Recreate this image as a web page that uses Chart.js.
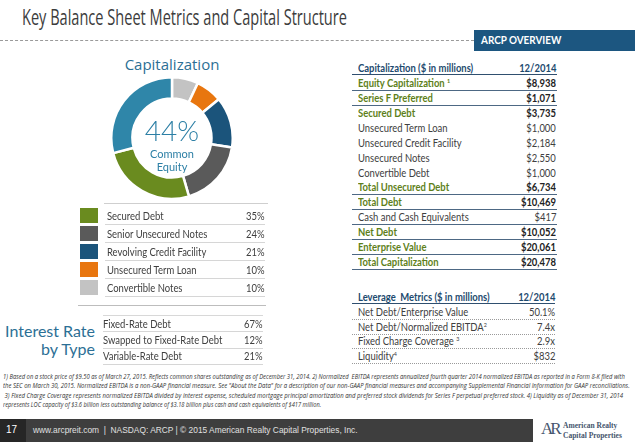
<!DOCTYPE html>
<html>
<head>
<meta charset="utf-8">
<script src="https://cdn.jsdelivr.net/npm/chart.js@4.4.1/dist/chart.umd.min.js"></script>
<style>
  html, body { margin: 0; padding: 0; background: #fff; }
  #slide { position: relative; width: 635px; height: 442px; overflow: hidden; background: #fff;
           font-family: Lato, "Open Sans", sans-serif; color: #404040; }
  .abs { position: absolute; white-space: nowrap; }
  .c { display: inline-block; transform: scaleX(.9); transform-origin: left center; }
  .cr { display: inline-block; transform: scaleX(.9); transform-origin: right center; }
  .row { position: absolute; display: flex; justify-content: space-between; align-items: center; }
  .blue { color: #2c6f95; }
  .navy { color: #1d4a6e; font-weight: bold; }
  .grn { color: #5e7f1a; font-weight: bold; }
  .dark { color: #222; font-weight: bold; }
  sup { font-size: 6px; vertical-align: 4px; }
</style>
</head>
<body>
<div id="slide">
  <div class="abs" id="title" style="left:22px; top:1px; font-size:22px; font-family:'Open Sans'; font-weight:400; color:#3c3c3c;">Key Balance Sheet Metrics and Capital Structure</div>
  <div class="abs" style="left:0; top:40px; width:474px; border-top:1px dashed #9a9a9a;"></div>
  <div class="abs" style="left:474px; top:30px; width:161px; height:21px; background:#1c5680;"></div>
  <div class="abs" style="left:481px; top:33px; font-size:11px; font-weight:bold; color:#fff;"><span class="c">ARCP OVERVIEW</span></div>

  <div class="abs blue" style="left:112px; width:120px; top:54px; font-size:15px; text-align:center; font-family:'Open Sans';">Capitalization</div>
  <canvas id="donut" width="124" height="124" style="position:absolute; left:110px; top:76px;"></canvas>
  <div class="abs" style="left:132px; width:80px; top:112.5px; text-align:center; color:#2c7fa5; font-size:11px; line-height:13px;"><span style="display:block; font-size:28px; line-height:34px; font-weight:300;">44%</span>Common<br>Equity</div>

  <div class="abs" style="left:104px; top:203px; width:164px; border-top:1px solid #cfcfcf;"></div>
  <div id="legend"></div>

  <div class="abs" style="left:78px; top:305px; width:188px; border-top:1.5px solid #bdbdbd;"></div>
  <div class="abs" style="left:103px; top:315px; width:160px; border-top:1px solid #d8d8d8;"></div>
  <div class="abs blue" style="left:0; width:95px; top:322px; font-size:16px; line-height:18px; text-align:right;">Interest Rate<br>by Type</div>
  <div id="rates"></div>

  <div id="capTable"></div>
  <div id="levTable"></div>

  <div id="notes"></div>

  <div class="abs" style="left:0; top:419px; width:533px; height:23px; background:#3e3e3e;"></div>
  <div class="abs" style="left:0; top:419px; width:26px; height:23px; background:#262626;"></div>
  <div class="abs" style="left:6px; top:424px; font-size:10px; color:#fff; font-family:'Liberation Sans';">17</div>
  <div class="abs" style="left:33px; top:425px; font-size:8.4px; color:#e0e0e0; font-family:'Liberation Sans';">www.arcpreit.com &nbsp;| &nbsp;NASDAQ: ARCP | © 2015 American Realty Capital Properties, Inc.</div>
  <div class="abs" style="left:541px; top:419px; font-size:17px; font-family:'Liberation Serif'; color:#46566e; letter-spacing:-3px;">AR</div>
  <div class="abs" style="left:563px; top:421px; font-size:7.5px; line-height:10px; font-family:'Liberation Serif'; font-weight:bold; color:#46566e;">American Realty<br>Capital Properties</div>
</div>

<script>
// donut slices, clockwise from 12 o'clock
const donutLabels = ['Convertible Notes', 'Unsecured Term Loan', 'Revolving Credit Facility', 'Senior Unsecured Notes', 'Secured Debt', 'Common Equity'];
const donutValues = [7, 7, 13.5, 18, 25.5, 29];
const donutColors = ['#c3c3c3', '#e8760f', '#1b547b', '#5a5a5a', '#6a8b1f', '#2f86a9'];

// debt legend
const debtTypes = ['Secured Debt', 'Senior Unsecured Notes', 'Revolving Credit Facility', 'Unsecured Term Loan', 'Convertible Notes'];
const debtShares = ['35%', '24%', '21%', '10%', '10%'];
const debtColors = ['#6a8b1f', '#5a5a5a', '#1b547b', '#e8760f', '#c3c3c3'];

// interest rate by type
const rateTypes = ['Fixed-Rate Debt', 'Swapped to Fixed-Rate Debt', 'Variable-Rate Debt'];
const rateShares = ['67%', '12%', '21%'];

// capitalization table
const capHeader = ['Capitalization ($ in millions)', '12/2014'];
const capLabels = ['Equity Capitalization <sup>1</sup>', 'Series F Preferred', 'Secured Debt', 'Unsecured Term Loan',
  'Unsecured Credit Facility', 'Unsecured Notes', 'Convertible Debt', 'Total Unsecured Debt', 'Total Debt',
  'Cash and Cash Equivalents', 'Net Debt', 'Enterprise Value', 'Total Capitalization'];
const capValues = ['$8,938', '$1,071', '$3,735', '$1,000', '$2,184', '$2,550', '$1,000', '$6,734', '$10,469',
  '$417', '$10,052', '$20,061', '$20,478'];
const capBold = [0, 1, 2, 7, 8, 10, 11, 12];
const capRuled = [0, 1, 7, 8, 9, 10, 11, 12];

// leverage table
const levHeader = ['Leverage&nbsp; Metrics ($ in millions)', '12/2014'];
const levLabels = ['Net Debt/Enterprise Value', 'Net Debt/Normalized EBITDA<sup>2</sup>', 'Fixed Charge Coverage <sup>3</sup>', 'Liquidity<sup>4</sup>'];
const levValues = ['50.1%', '7.4x', '2.9x', '$832'];

const footnotes = [
  '1) Based on a stock price of $9.50 as of March 27, 2015. Reflects common shares outstanding as of December 31, 2014. 2) Normalized&nbsp; EBITDA represents annualized fourth quarter 2014 normalized EBITDA as reported in a Form 8-K filed with',
  'the SEC on March 30, 2015. Normalized EBITDA is a non-GAAP financial measure. See "About the Data" for a description of our non-GAAP financial measures and accompanying Supplemental Financial Information for GAAP reconciliations.',
  '&nbsp;3) Fixed Charge Coverage represents normalized EBITDA divided by interest expense, scheduled mortgage principal amortization and preferred stock dividends for Series F perpetual preferred stock. 4) Liquidity as of December 31, 2014',
  'represents LOC capacity of $3.6 billion less outstanding balance of $3.18 billion plus cash and cash equivalents of $417 million.'
];
const footnoteWidths = [622, 627, 620, 318];

function addRow(parent, x, y, w, h, label, value, cls, border) {
  const r = document.createElement('div');
  r.className = 'row';
  r.style.cssText = `left:${x}px; top:${y}px; width:${w}px; height:${h}px; ${border || ''}`;
  r.innerHTML = `<span class="c ${cls}">${label}</span><span class="cr ${cls}">${value}</span>`;
  parent.appendChild(r);
  return r;
}

// legend rows
const legend = document.getElementById('legend');
debtTypes.forEach((t, i) => {
  const y = 208 + i * 18;
  const sq = document.createElement('div');
  sq.className = 'abs';
  sq.style.cssText = `left:80px; top:${y}px; width:18px; height:15px; background:${debtColors[i]};`;
  legend.appendChild(sq);
  const r = addRow(legend, 105, y - 1, 158, 17, t, debtShares[i], '', 'border-bottom:1px solid #d6d6d6;');
  r.style.fontSize = '10.5px';
  r.style.padding = '0 0 0 2px';
});

const rates = document.getElementById('rates');
rateTypes.forEach((t, i) => {
  const r = addRow(rates, 103, 316 + i * 16.3, 160, 15.3, t, rateShares[i], '', 'border-bottom:1px solid #d6d6d6;');
  r.style.fontSize = '10.5px';
});

// capitalization table
const cap = document.getElementById('capTable');
let h = addRow(cap, 352, 61, 205, 14, capHeader[0], capHeader[1], 'navy', 'border-bottom:1.5px solid #2f4f6f;');
h.style.fontSize = '10.5px'; h.style.padding = '0 1px 0 6px'; h.style.boxSizing = 'border-box';
capLabels.forEach((t, i) => {
  const bold = capBold.includes(i);
  const border = capRuled.includes(i) ? 'border-bottom:1.5px solid #4d6884;' : '';
  const r = addRow(cap, 352, 76 + i * 14.92, 205, 14.92, t, capValues[i], bold ? 'grn' : '', border);
  r.style.fontSize = '10.5px'; r.style.padding = '0 1px 0 6px'; r.style.boxSizing = 'border-box';
  if (bold) r.lastChild.className = 'cr dark';
});

// leverage table
const lev = document.getElementById('levTable');
h = addRow(lev, 352, 290, 203, 14, levHeader[0], levHeader[1], 'navy', 'border-bottom:1.5px solid #2f4f6f;');
h.style.fontSize = '10.5px'; h.style.padding = '0 0 0 6px'; h.style.boxSizing = 'border-box';
levLabels.forEach((t, i) => {
  const r = addRow(lev, 352, 305.5 + i * 14.5, 203, 14.5, t, levValues[i], '', 'border-bottom:1px dotted #9a9a9a;');
  r.style.fontSize = '10.5px'; r.style.padding = '0 0 0 6px'; r.style.boxSizing = 'border-box';
});

// footnotes, squeezed to the widths in the slide
const notes = document.getElementById('notes');
footnotes.forEach((t, i) => {
  const d = document.createElement('div');
  d.className = 'abs';
  d.style.cssText = `left:3px; top:${372 + i * 9.3}px; font-size:6.2px; font-style:italic; color:#333; font-family:'Open Sans'; transform-origin:left top;`;
  d.innerHTML = t;
  notes.appendChild(d);
  d.style.transform = `scaleX(${footnoteWidths[i] / d.offsetWidth})`;
});

const title = document.getElementById('title');
title.style.transformOrigin = 'left top';
title.style.transform = `scaleX(${325 / title.offsetWidth})`;

new Chart(document.getElementById('donut'), {
  type: 'doughnut',
  data: {
    labels: donutLabels,
    datasets: [{
      data: donutValues,
      backgroundColor: donutColors,
      borderColor: '#fff',
      borderWidth: 2.5,
    }],
  },
  options: {
    responsive: false,
    animation: false,
    cutout: '65%',
    layout: { padding: 0 },
    plugins: { legend: { display: false }, tooltip: { enabled: false } },
  },
});
</script>
</body>
</html>
